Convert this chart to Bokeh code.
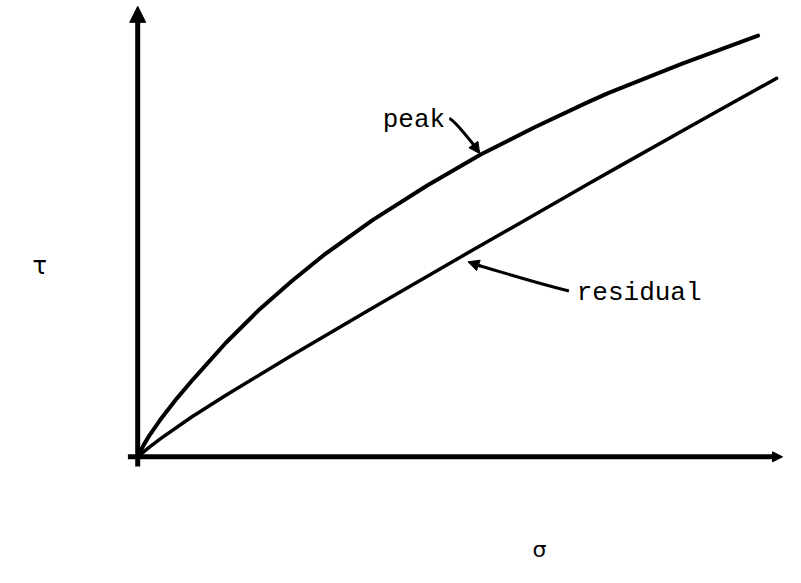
from bokeh.plotting import figure
from bokeh.models import Range1d, Arrow, NormalHead
from bokeh.core.properties import value
from bokeh.embed import file_html
from bokeh.resources import INLINE

# Data (sigma, tau in arbitrary units)
peak_sigma = [0.0, 0.06, 0.12, 0.23, 0.40, 0.57, 0.90, 1.23, 1.57, 1.90, 2.40, 2.95, 3.50, 4.05, 4.60, 4.80, 5.55, 6.33]
peak_tau = [0.0, 0.12, 0.22, 0.38, 0.60, 0.80, 1.17, 1.50, 1.80, 2.07, 2.43, 2.78, 3.10, 3.38, 3.64, 3.73, 4.03, 4.32]
resid_sigma = [0.0, 0.10, 0.23, 0.55, 0.90, 1.57, 2.40, 3.37, 4.60, 4.90, 5.70, 6.52]
resid_tau = [0.0, 0.085, 0.184, 0.408, 0.632, 1.040, 1.530, 2.092, 2.800, 2.971, 3.423, 3.882]

labels = ["peak", "residual"]
axis_symbols = ["τ", "σ"]

W, H = 785, 567
p = figure(width=W, height=H, output_backend="svg", toolbar_location=None,
           x_range=Range1d(-1.40, 6.61), y_range=Range1d(-1.135, 4.68),
           min_border=0, border_fill_color="white", background_fill_color="white")
p.axis.visible = False
p.grid.visible = False
p.outline_line_color = None

# axes drawn as arrows
p.add_layout(Arrow(x_start=0, y_start=-0.10, x_end=0, y_end=4.62, line_width=5, line_color="black",
                   end=NormalHead(size=16, fill_color="black", line_color="black", line_width=1)))
p.add_layout(Arrow(x_start=-0.10, y_start=0, x_end=6.58, y_end=0, line_width=5, line_color="black",
                   end=NormalHead(size=10, fill_color="black", line_color="black", line_width=1)))

# curves
p.line(peak_sigma, peak_tau, line_width=4, line_color="black", line_cap="round", line_join="round")
p.line(resid_sigma, resid_tau, line_width=3.5, line_color="black", line_cap="round", line_join="round")

font = value("Liberation Mono")
p.text(x=[2.50], y=[3.45], text=[labels[0]], text_font=font, text_font_size="26px",
       text_color="black", text_baseline="alphabetic", text_align="left")
p.text(x=[4.48], y=[1.68], text=[labels[1]], text_font=font, text_font_size="26px",
       text_color="black", text_baseline="alphabetic", text_align="left")

# leader arrows
p.bezier(x0=[3.18], y0=[3.47], x1=[3.46], y1=[3.16], cx0=[3.22], cy0=[3.46], cx1=[3.35], cy1=[3.30],
         line_width=3, line_color="black")
p.add_layout(Arrow(x_start=3.42, y_start=3.21, x_end=3.49, y_end=3.11, line_width=3, line_color="black",
                   end=NormalHead(size=11, fill_color="black", line_color="black")))
p.bezier(x0=[4.40], y0=[1.70], x1=[3.45], y1=[1.97], cx0=[4.00], cy0=[1.80], cx1=[3.70], cy1=[1.90],
         line_width=3, line_color="black")
p.add_layout(Arrow(x_start=3.50, y_start=1.955, x_end=3.37, y_end=2.00, line_width=3, line_color="black",
                   end=NormalHead(size=11, fill_color="black", line_color="black")))

# axis symbols
p.text(x=[-1.00], y=[1.96], text=[axis_symbols[0]], text_font=value("DejaVu Sans"), text_font_size="24px",
       text_color="black", text_baseline="middle", text_align="center")
p.text(x=[4.10], y=[-0.95], text=[axis_symbols[1]], text_font=value("DejaVu Sans"), text_font_size="22px",
       text_color="black", text_baseline="middle", text_align="center")

open("out.html", "w").write(file_html(p, INLINE))
